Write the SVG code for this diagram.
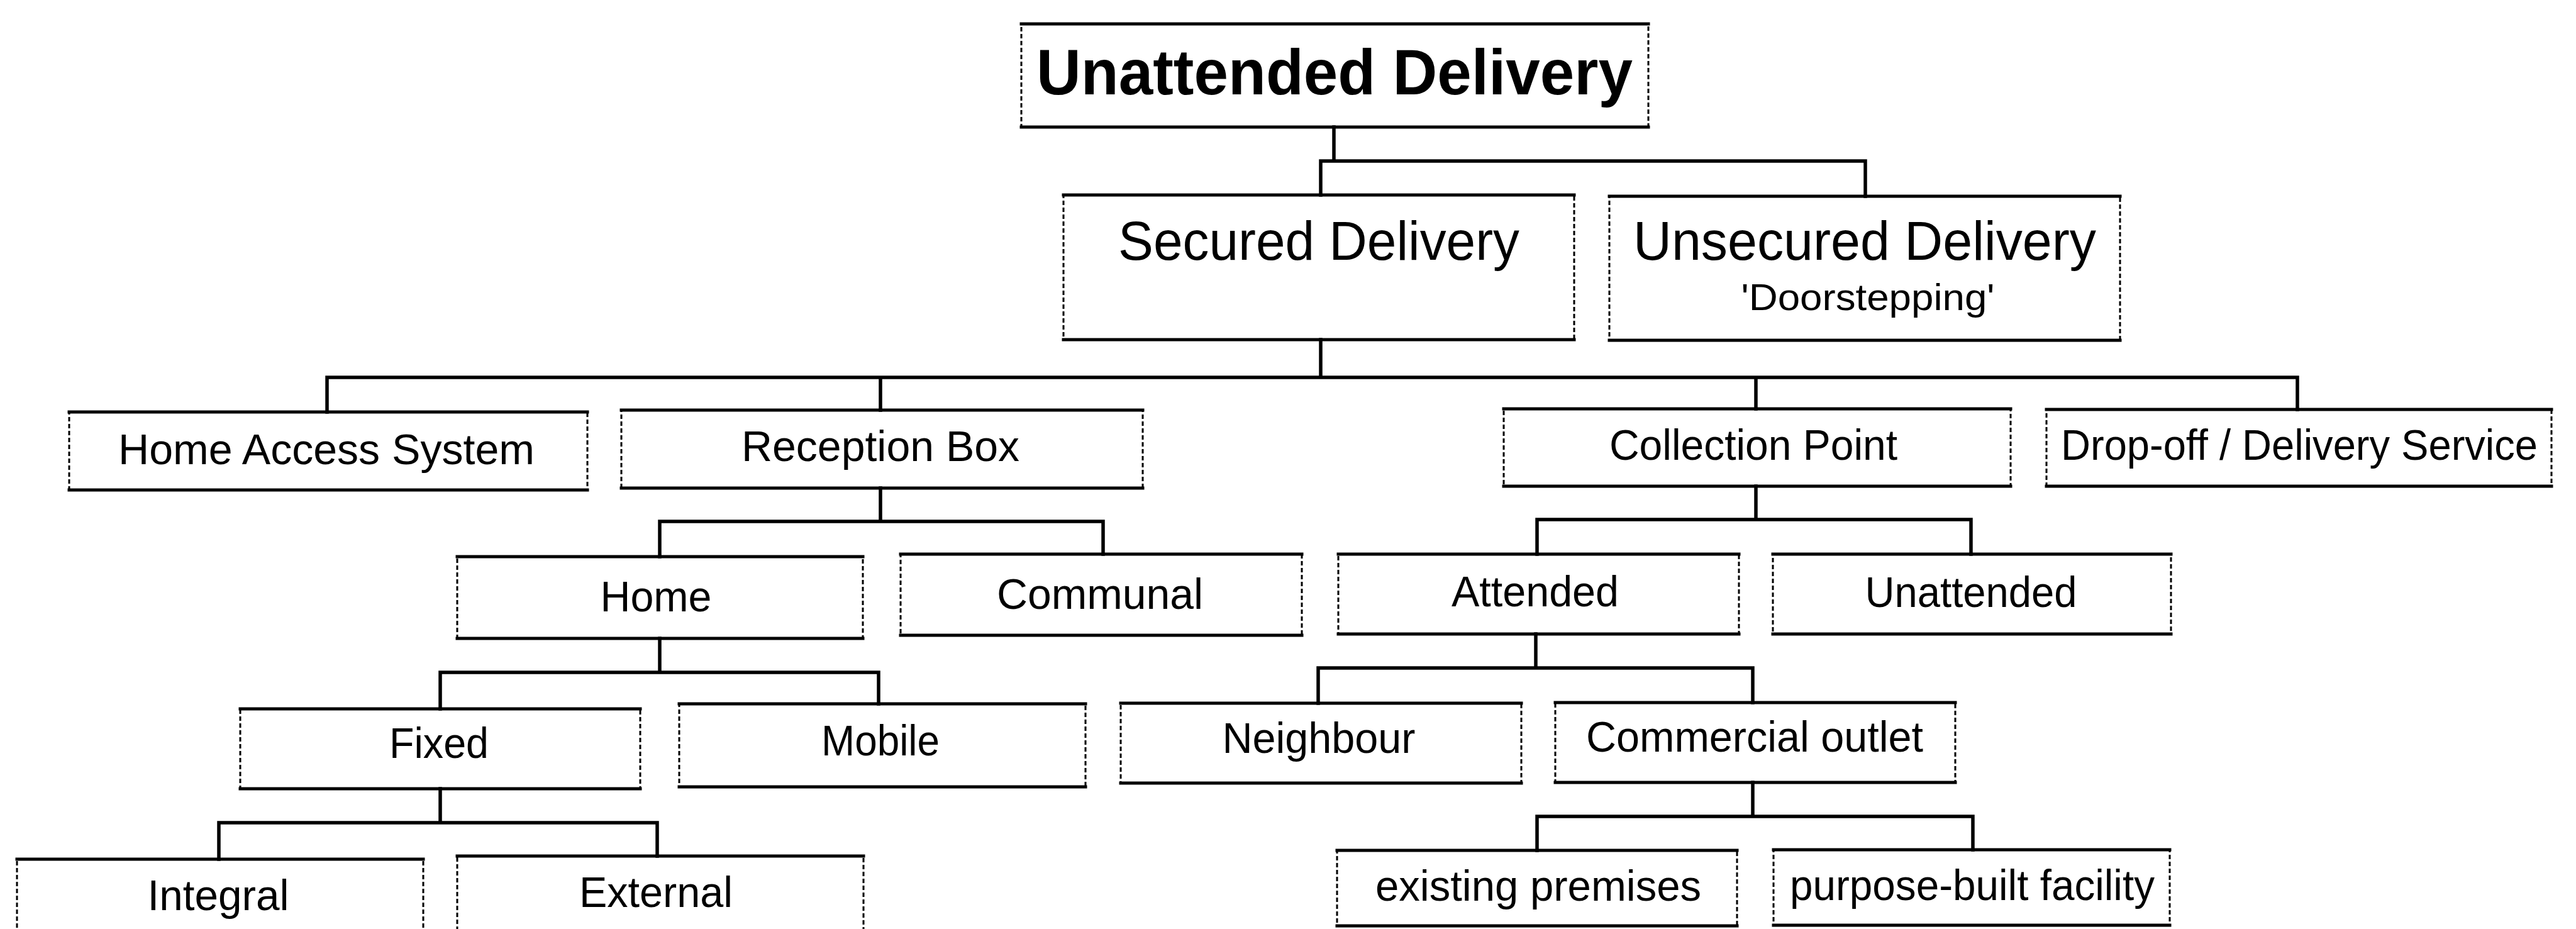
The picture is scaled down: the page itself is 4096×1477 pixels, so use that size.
<svg xmlns="http://www.w3.org/2000/svg" width="4096" height="1477" viewBox="0 0 4096 1477">
  <style>
    .bg { fill: #ffffff; }
    .side { fill: none; stroke: #000; stroke-width: 3; stroke-dasharray: 7 4; }
    .rule { fill: none; stroke: #000; stroke-width: 5; stroke-linecap: square; }
    .link { fill: none; stroke: #000; stroke-width: 5.5; stroke-linecap: square; stroke-linejoin: miter; }
    text { font-family: "Liberation Sans", Arial, sans-serif; fill: #000; text-anchor: middle; }
    .t1 { font-size: 102px; font-weight: bold; }
    .t2 { font-size: 88px; }
    .t3 { font-size: 68px; }
    .t4 { font-size: 60px; }
  </style>

  <rect class="bg" x="0" y="0" width="4096" height="1477"/>

  <!-- tree connectors -->
  <g id="connectors">
    <path class="link" d="M2121 202 V256 M2100 256 H2966 M2100 256 V310 M2966 256 V312"/>
    <path class="link" d="M2100 540 V600 M520 600 H3653 M520 600 V655 M1400 600 V652 M2792 600 V650 M3653 600 V651"/>
    <path class="link" d="M1400 776 V829 M1049 829 H1754 M1049 829 V885 M1754 829 V881"/>
    <path class="link" d="M2792 773 V826 M2444 826 H3134 M2444 826 V881 M3134 826 V881"/>
    <path class="link" d="M1049 1015 V1069 M700 1069 H1397 M700 1069 V1127 M1397 1069 V1119"/>
    <path class="link" d="M2442 1008 V1062 M2096 1062 H2787 M2096 1062 V1118 M2787 1062 V1117"/>
    <path class="link" d="M700 1254 V1308 M348 1308 H1045 M348 1308 V1366 M1045 1308 V1361"/>
    <path class="link" d="M2787 1244 V1298 M2444 1298 H3137 M2444 1298 V1352 M3137 1298 V1351"/>
  </g>

  <!-- boxes: dashed sides, solid top and bottom rules -->
  <g id="unattended-delivery">
    <rect class="side" x="1624" y="38" width="997" height="164"/>
    <path class="rule" d="M1624 38 H2621 M1624 202 H2621"/>
    <text class="t1" x="2122" y="150" textLength="948" lengthAdjust="spacingAndGlyphs">Unattended Delivery</text>
  </g>

  <g id="secured-delivery">
    <rect class="side" x="1691" y="310" width="812" height="230"/>
    <path class="rule" d="M1691 310 H2503 M1691 540 H2503"/>
    <text class="t2" x="2097" y="413" textLength="638" lengthAdjust="spacingAndGlyphs">Secured Delivery</text>
  </g>

  <g id="unsecured-delivery">
    <rect class="side" x="2559" y="312" width="812" height="229"/>
    <path class="rule" d="M2559 312 H3371 M2559 541 H3371"/>
    <text class="t2" x="2965" y="413" textLength="736" lengthAdjust="spacingAndGlyphs">Unsecured Delivery</text>
    <text class="t4" x="2970" y="493" textLength="403" lengthAdjust="spacingAndGlyphs">'Doorstepping'</text>
  </g>

  <g id="home-access-system">
    <rect class="side" x="110" y="655" width="824" height="124"/>
    <path class="rule" d="M110 655 H934 M110 779 H934"/>
    <text class="t3" x="519" y="738" textLength="662" lengthAdjust="spacingAndGlyphs">Home Access System</text>
  </g>

  <g id="reception-box">
    <rect class="side" x="988" y="652" width="829" height="124"/>
    <path class="rule" d="M988 652 H1817 M988 776 H1817"/>
    <text class="t3" x="1400" y="733" textLength="442" lengthAdjust="spacingAndGlyphs">Reception Box</text>
  </g>

  <g id="collection-point">
    <rect class="side" x="2391" y="650" width="806" height="123"/>
    <path class="rule" d="M2391 650 H3197 M2391 773 H3197"/>
    <text class="t3" x="2788" y="731" textLength="458" lengthAdjust="spacingAndGlyphs">Collection Point</text>
  </g>

  <g id="drop-off-delivery-service">
    <rect class="side" x="3254" y="651" width="803" height="122"/>
    <path class="rule" d="M3254 651 H4057 M3254 773 H4057"/>
    <text class="t3" x="3656" y="731" textLength="758" lengthAdjust="spacingAndGlyphs">Drop-off / Delivery Service</text>
  </g>

  <g id="home">
    <rect class="side" x="727" y="885" width="645" height="130"/>
    <path class="rule" d="M727 885 H1372 M727 1015 H1372"/>
    <text class="t3" x="1043" y="972" textLength="177" lengthAdjust="spacingAndGlyphs">Home</text>
  </g>

  <g id="communal">
    <rect class="side" x="1432" y="881" width="638" height="129"/>
    <path class="rule" d="M1432 881 H2070 M1432 1010 H2070"/>
    <text class="t3" x="1749" y="968" textLength="328" lengthAdjust="spacingAndGlyphs">Communal</text>
  </g>

  <g id="attended">
    <rect class="side" x="2128" y="881" width="637" height="127"/>
    <path class="rule" d="M2128 881 H2765 M2128 1008 H2765"/>
    <text class="t3" x="2441" y="964" textLength="266" lengthAdjust="spacingAndGlyphs">Attended</text>
  </g>

  <g id="unattended">
    <rect class="side" x="2819" y="881" width="633" height="127"/>
    <path class="rule" d="M2819 881 H3452 M2819 1008 H3452"/>
    <text class="t3" x="3134" y="965" textLength="337" lengthAdjust="spacingAndGlyphs">Unattended</text>
  </g>

  <g id="fixed">
    <rect class="side" x="382" y="1127" width="636" height="127"/>
    <path class="rule" d="M382 1127 H1018 M382 1254 H1018"/>
    <text class="t3" x="698" y="1205" textLength="158" lengthAdjust="spacingAndGlyphs">Fixed</text>
  </g>

  <g id="mobile">
    <rect class="side" x="1080" y="1119" width="646" height="132"/>
    <path class="rule" d="M1080 1119 H1726 M1080 1251 H1726"/>
    <text class="t3" x="1400" y="1201" textLength="188" lengthAdjust="spacingAndGlyphs">Mobile</text>
  </g>

  <g id="neighbour">
    <rect class="side" x="1782" y="1118" width="637" height="127"/>
    <path class="rule" d="M1782 1118 H2419 M1782 1245 H2419"/>
    <text class="t3" x="2097" y="1197" textLength="307" lengthAdjust="spacingAndGlyphs">Neighbour</text>
  </g>

  <g id="commercial-outlet">
    <rect class="side" x="2473" y="1117" width="636" height="127"/>
    <path class="rule" d="M2473 1117 H3109 M2473 1244 H3109"/>
    <text class="t3" x="2790" y="1195" textLength="536" lengthAdjust="spacingAndGlyphs">Commercial outlet</text>
  </g>

  <g id="integral">
    <rect class="side" x="27" y="1366" width="646" height="140"/>
    <path class="rule" d="M27 1366 H673"/>
    <text class="t3" x="347" y="1447" textLength="225" lengthAdjust="spacingAndGlyphs">Integral</text>
  </g>

  <g id="external">
    <rect class="side" x="727" y="1361" width="646" height="145"/>
    <path class="rule" d="M727 1361 H1373"/>
    <text class="t3" x="1043" y="1442" textLength="244" lengthAdjust="spacingAndGlyphs">External</text>
  </g>

  <g id="existing-premises">
    <rect class="side" x="2126" y="1352" width="636" height="120"/>
    <path class="rule" d="M2126 1352 H2762 M2126 1472 H2762"/>
    <text class="t3" x="2446" y="1432" textLength="518" lengthAdjust="spacingAndGlyphs">existing premises</text>
  </g>

  <g id="purpose-built-facility">
    <rect class="side" x="2820" y="1351" width="630" height="120"/>
    <path class="rule" d="M2820 1351 H3450 M2820 1471 H3450"/>
    <text class="t3" x="3136" y="1431" textLength="580" lengthAdjust="spacingAndGlyphs">purpose-built facility</text>
  </g>
</svg>
